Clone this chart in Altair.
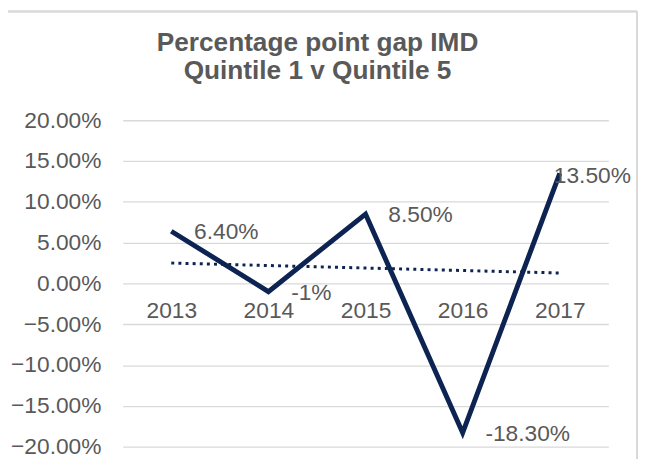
import altair as alt
import pandas as pd

years = ["2013", "2014", "2015", "2016", "2017"]
gap = [0.064, -0.01, 0.085, -0.183, 0.135]
gap_labels = ["6.40%", "-1%", "8.50%", "-18.30%", "13.50%"]
trend_years = ["2013", "2017"]
trend_values = [0.025, 0.0128]
y_ticks = [-0.2, -0.15, -0.1, -0.05, 0.0, 0.05, 0.1, 0.15, 0.2]
title_lines = ["Percentage point gap IMD", "Quintile 1 v Quintile 5"]

df = pd.DataFrame({"year": years, "gap": gap, "label": gap_labels})
trend = pd.DataFrame({"year": trend_years, "gap": trend_values})

NAVY = "#0d2452"
GREY = "#595959"
FONT = "Liberation Sans"

x_enc = alt.X("year:O", scale=alt.Scale(domain=years, type="point", padding=0.5),
              axis=alt.Axis(title=None, labelAngle=0, ticks=False, domain=False, grid=False,
                            labelFontSize=23, labelColor=GREY, labelFont=FONT,
                            labelPadding=16, offset=-165))
y_enc = alt.Y("gap:Q", scale=alt.Scale(domain=[-0.2, 0.2], nice=False),
              axis=alt.Axis(title=None, values=y_ticks, format=".2%", ticks=False, domain=False,
                            gridColor="#d9d9d9", gridWidth=1.3, labelFontSize=23,
                            labelColor=GREY, labelFont=FONT, labelPadding=22))

base = alt.Chart(df)

line = base.mark_line(color=NAVY, strokeWidth=5, strokeJoin="miter").encode(x=x_enc, y=y_enc)

trend_line = alt.Chart(trend).mark_line(color=NAVY, strokeWidth=3, strokeDash=[3, 4.2]).encode(
    x=alt.X("year:O"), y=alt.Y("gap:Q"))

labels = base.transform_filter(alt.datum.year != "2017").mark_text(
    align="left", baseline="middle", dx=23, dy=1, fontSize=23, color=GREY, font=FONT
).encode(x="year:O", y="gap:Q", text="label:N")

label_last = base.transform_filter(alt.datum.year == "2017").mark_text(
    align="left", baseline="middle", dx=-6, dy=3, fontSize=23, color=GREY, font=FONT
).encode(x="year:O", y="gap:Q", text="label:N")

title = alt.Chart(df).transform_filter(alt.datum.year == "2013").mark_text(
    text=title_lines, align="center", baseline="alphabetic", lineHeight=28.4,
    fontSize=26.5, font=FONT, fontWeight="bold", color=GREY
).encode(x=alt.value(197), y=alt.value(-70))

border_top = alt.Chart(df).mark_rule(color="#d9d9d9", strokeWidth=1.5).encode(
    x=alt.value(-116), x2=alt.value(520), y=alt.value(-110))
border_right = alt.Chart(df).mark_rule(color="#d9d9d9", strokeWidth=1.5).encode(
    x=alt.value(520), y=alt.value(-110), y2=alt.value(345))

chart = alt.layer(line, trend_line, labels, label_last, title, border_top, border_right).properties(
    width=491, height=330,
    padding={"left": 116, "top": 111, "right": 30, "bottom": 10},
    autosize=alt.AutoSizeParams(type="none"),
).configure_view(stroke=None)

chart.save("out.html", embed_options={"renderer": "svg", "actions": False})
